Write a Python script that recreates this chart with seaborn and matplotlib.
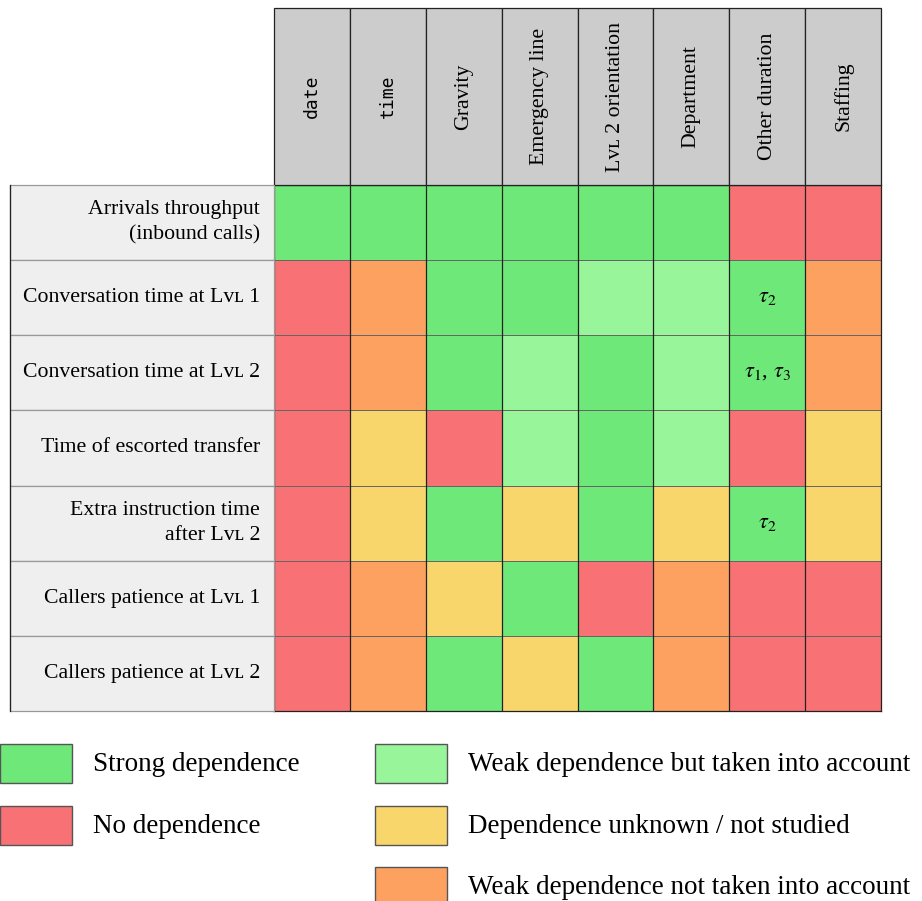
import numpy as np
import pandas as pd
import seaborn as sns
import matplotlib.pyplot as plt
from matplotlib.colors import ListedColormap
from matplotlib.patches import Rectangle

# Data
factors = ["date", "time", "Gravity", "Emergency line", "Lᴠʟ 2 orientation",
           "Department", "Other duration", "Staffing"]
quantities = ["Arrivals throughput\n(inbound calls)", "Conversation time at Lᴠʟ 1",
              "Conversation time at Lᴠʟ 2", "Time of escorted transfer",
              "Extra instruction time\nafter Lᴠʟ 2", "Callers patience at Lᴠʟ 1",
              "Callers patience at Lᴠʟ 2"]
levels = ["Strong dependence", "No dependence",
          "Weak dependence but taken into account",
          "Dependence unknown / not studied",
          "Weak dependence not taken into account"]
level_colors = ["#6ee878", "#f87174", "#98f59a", "#f9d66c", "#fda160"]

# 0 strong, 1 none, 2 weak (taken), 3 unknown, 4 weak (not taken)
arrivals = [0, 0, 0, 0, 0, 0, 1, 1]
conv_lvl1 = [1, 4, 0, 0, 2, 2, 0, 4]
conv_lvl2 = [1, 4, 0, 2, 0, 2, 0, 4]
escorted = [1, 3, 1, 2, 0, 2, 1, 3]
extra_instr = [1, 3, 0, 3, 0, 3, 0, 3]
patience_lvl1 = [1, 4, 3, 0, 1, 4, 1, 1]
patience_lvl2 = [1, 4, 0, 3, 0, 4, 1, 1]
notes = {(1, 6): r"$\tau_2$", (2, 6): r"$\tau_1$, $\tau_3$", (4, 6): r"$\tau_2$"}

df = pd.DataFrame([arrivals, conv_lvl1, conv_lvl2, escorted, extra_instr,
                   patience_lvl1, patience_lvl2], index=quantities, columns=factors)
annot = np.full(df.shape, "", dtype=object)
for (r, c), txt in notes.items():
    annot[r, c] = txt

serif = ["Liberation Serif", "DejaVu Serif"]
plt.rcParams["mathtext.fontset"] = "stix"

W, H = 922, 901
fig = plt.figure(figsize=(W / 100, H / 100), dpi=100)


def px_axes(x0, y0, x1, y1):
    return fig.add_axes([x0 / W, 1 - y1 / H, (x1 - x0) / W, (y1 - y0) / H])


# Main grid
ax = px_axes(274, 185, 881, 711)
sns.heatmap(df, cmap=ListedColormap(level_colors), vmin=-0.5, vmax=4.5, cbar=False,
            linewidths=0.6, linecolor="#666666", annot=annot, fmt="",
            annot_kws={"fontsize": 16, "color": "black", "family": serif}, ax=ax)
ax.set_xticks([])
ax.set_yticks([])
ax.set_xlabel("")
ax.set_ylabel("")
for i in range(1, len(factors)):
    ax.axvline(i, color="#222222", lw=0.9)
for s in ax.spines.values():
    s.set_visible(True)
    s.set_color("#222222")
    s.set_linewidth(0.9)

# Column header
hax = px_axes(274, 8, 881, 185)
hax.set_xlim(0, len(factors))
hax.set_ylim(0, 1)
hax.axis("off")
for i, name in enumerate(factors):
    hax.add_patch(Rectangle((i, 0), 1, 1, fc="#cccccc", ec="#222222", lw=0.9, clip_on=False))
    fam = ["DejaVu Sans Mono"] if name in ("date", "time") else serif
    fs = 13 if name in ("date", "time") else 15.7
    hax.text(i + 0.5, 0.5, name, rotation=90, ha="center", va="center",
             fontsize=fs, family=fam)

# Row labels
rax = px_axes(10, 185, 274, 711)
rax.set_xlim(0, 1)
rax.set_ylim(len(quantities), 0)
rax.axis("off")
for j, name in enumerate(quantities):
    rax.add_patch(Rectangle((0, j), 1, 1, fc="#efefef", ec="#999999", lw=0.9, clip_on=False))
    rax.text(0.947, j + 0.5, name, ha="right", va="center", fontsize=15.7,
             family=serif, linespacing=1.45)
rax.plot([0, 0], [0, len(quantities)], color="#222222", lw=0.9, clip_on=False)

# Legend
lax = px_axes(0, 730, W, H)
lax.set_xlim(0, W)
lax.set_ylim(H, 730)
lax.axis("off")
slots = [(0, 744), (0, 806), (375, 744), (375, 806), (375, 867)]
for (x, y), lab, col in zip(slots, levels, level_colors):
    lax.add_patch(Rectangle((x, y), 72, 39, fc=col, ec="#555555", lw=1, clip_on=False))
    lax.text(x + 93, y + 20.5, lab, ha="left", va="center", fontsize=19.5, family=serif)

fig.savefig("out.png", dpi=100)
